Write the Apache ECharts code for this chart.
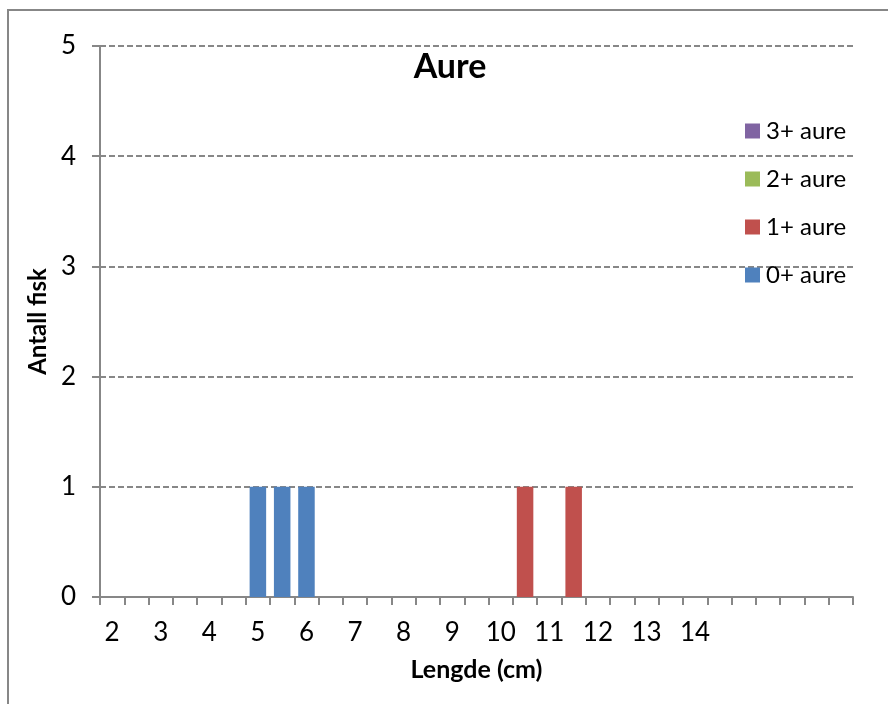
<!DOCTYPE html>
<html>
<head>
<meta charset="utf-8">
<script src="https://cdn.jsdelivr.net/npm/echarts@6/dist/echarts.min.js"></script>
<style>
html,body{margin:0;padding:0;background:#fff;}
#c{width:888px;height:704px;}
</style>
</head>
<body>
<div id="c"></div>
<script>
// length bins (cm), 0.5 cm steps
var categories = ["2","2.5","3","3.5","4","4.5","5","5.5","6","6.5","7","7.5","8","8.5","9","9.5","10","10.5","11","11.5","12","12.5","13","13.5","14","14.5","15","15.5","16","16.5","17"];
var tickLabels = ["2","","3","","4","","5","","6","","7","","8","","9","","10","","11","","12","","13","","14","","","","","",""];
var aure0 = [0,0,0,0,0,0,1,1,1,0,0,0,0,0,0,0,0,0,0,0,0,0,0,0,0,0,0,0,0,0,0];
var aure1 = [0,0,0,0,0,0,0,0,0,0,0,0,0,0,0,0,0,1,0,1,0,0,0,0,0,0,0,0,0,0,0];
var aure2 = [0,0,0,0,0,0,0,0,0,0,0,0,0,0,0,0,0,0,0,0,0,0,0,0,0,0,0,0,0,0,0];
var aure3 = [0,0,0,0,0,0,0,0,0,0,0,0,0,0,0,0,0,0,0,0,0,0,0,0,0,0,0,0,0,0,0];
var seriesNames = ["0+ aure","1+ aure","2+ aure","3+ aure"];
var yTicks = [0,1,2,3,4,5];

var FONT = 'Lato';
var GRAY = '#878787';
var chart = echarts.init(document.getElementById('c'), null, {renderer:'canvas'});
function bar(name, data, color){
  return {name:name, type:'bar', stack:'a', data:data, barWidth:'68%',
    itemStyle:{color:color}, emphasis:{disabled:true}};
}
chart.setOption({
  animation:false,
  backgroundColor:'#fff',
  graphic:[{type:'rect', shape:{x:8,y:10,width:900,height:720}, style:{fill:'none', stroke:GRAY, lineWidth:2}, silent:true}],
  title:{text:'Aure', left:445, textAlign:'center', top:45,
    textStyle:{fontFamily:FONT, fontWeight:'bold', fontSize:34, color:'#000'}},
  legend:{orient:'vertical', left:740, top:114, itemWidth:15, itemHeight:15, itemGap:24,
    icon:'rect', selectedMode:false,
    data:['3+ aure','2+ aure','1+ aure','0+ aure'],
    textStyle:{fontFamily:FONT, fontSize:24, color:'#000', lineHeight:24, padding:[0,0,0,1]}},
  grid:{left:100, right:35, top:46, bottom:107},
  xAxis:{type:'category', data:categories, boundaryGap:true,
    name:'Lengde (cm)', nameLocation:'middle', nameGap:60,
    nameTextStyle:{fontFamily:FONT, fontWeight:'bold', fontSize:25, color:'#000'},
    axisLine:{lineStyle:{color:GRAY, width:2}},
    axisTick:{show:true, interval:0, length:8, lineStyle:{color:GRAY, width:2}},
    axisLabel:{interval:0, margin:23, fontFamily:FONT, fontSize:26, color:'#000',
      formatter:function(v,i){return tickLabels[i];}},
    splitLine:{show:false}},
  yAxis:{type:'value', min:0, max:5, interval:1,
    name:'Antall fisk', nameLocation:'middle', nameGap:50,
    nameTextStyle:{fontFamily:FONT, fontWeight:'bold', fontSize:24, color:'#000'},
    axisLine:{show:true, lineStyle:{color:GRAY, width:2}},
    axisTick:{show:true, length:8, lineStyle:{color:GRAY, width:2}},
    axisLabel:{margin:24, fontFamily:FONT, fontSize:26, color:'#000',
      formatter:function(v){return yTicks.indexOf(v)>=0 ? String(v) : '';}},
    splitLine:{show:true, lineStyle:{color:GRAY, width:2, type:[6,3]}}},
  series:[
    bar(seriesNames[0], aure0, '#4F81BD'),
    bar(seriesNames[1], aure1, '#C0504D'),
    bar(seriesNames[2], aure2, '#9BBB59'),
    bar(seriesNames[3], aure3, '#8064A2')
  ]
});
</script>
</body>
</html>
